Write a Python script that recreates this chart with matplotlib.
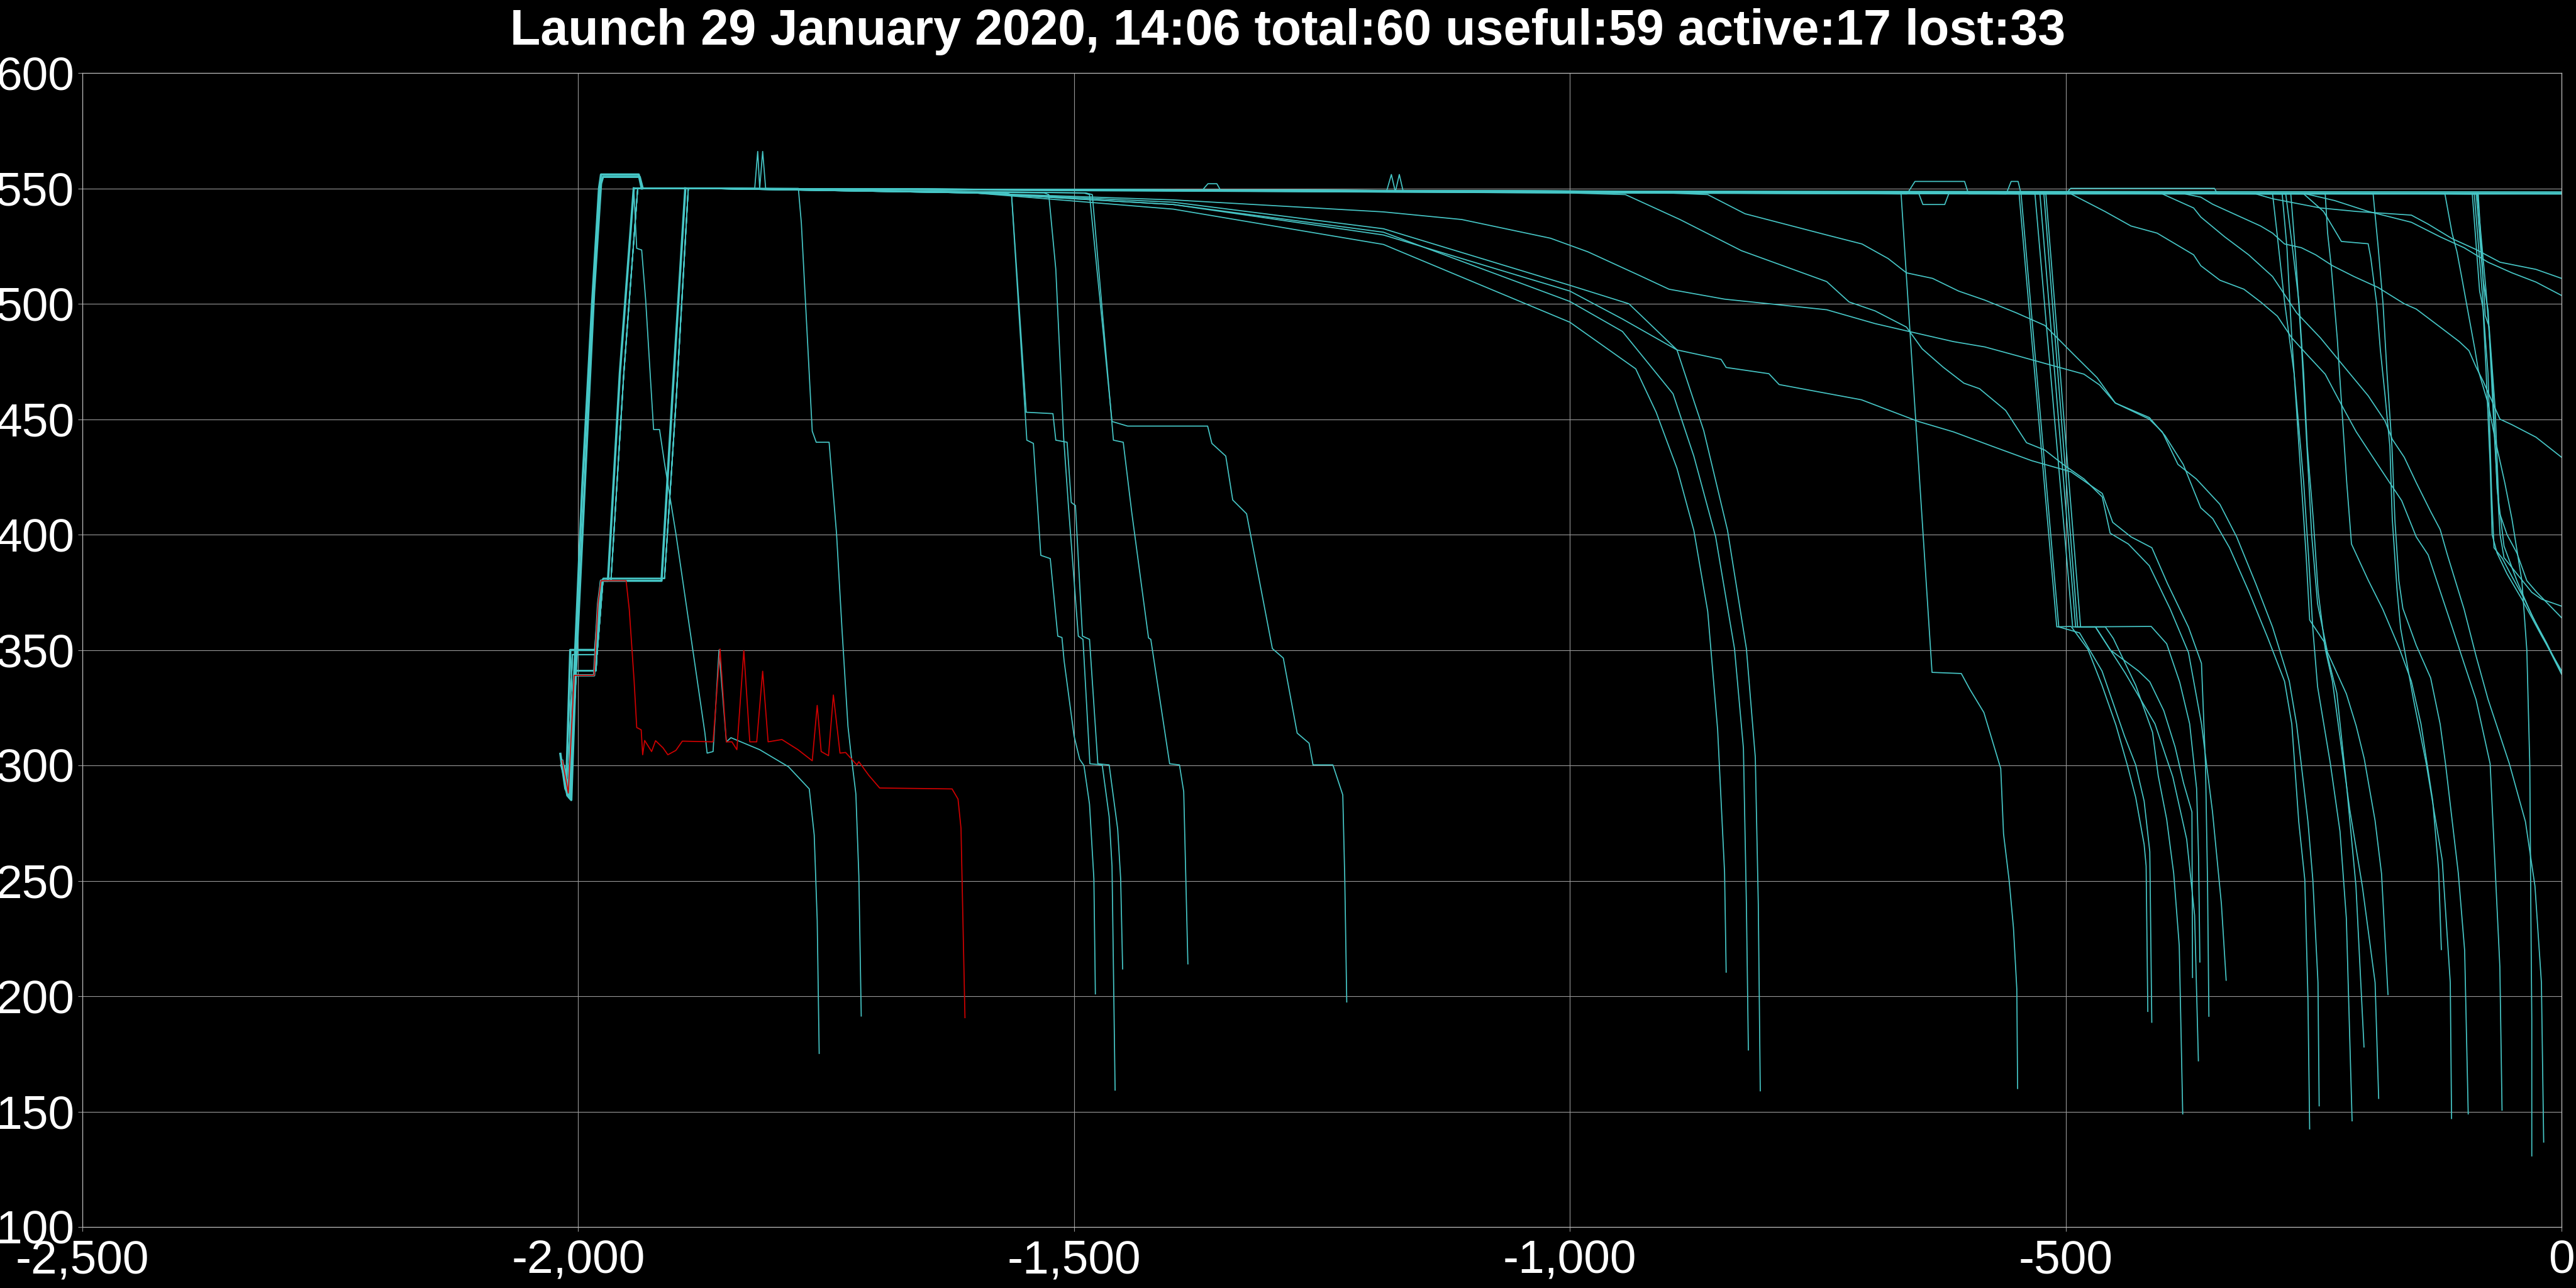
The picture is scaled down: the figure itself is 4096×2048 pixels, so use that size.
import matplotlib
matplotlib.use('Agg')
import matplotlib.pyplot as plt
from matplotlib.ticker import FuncFormatter, MultipleLocator

plt.rcParams['font.family'] = ['Liberation Sans', 'DejaVu Sans']

TITLE = 'Launch 29 January 2020, 14:06 total:60 useful:59 active:17 lost:33'
CYAN = '#46c6c6'
RED = '#d00000'
GRID = '#9a9a9a'

# orbit raising profiles right after launch (days, km)
asc_fast = [(-2018, 305), (-2013, 290), (-2009, 286), (-2005, 330), (-1996, 420),
            (-1986, 500), (-1979, 550), (-1977, 556), (-1939, 556), (-1936, 550)]
asc_fast_b = [(-2016, 300), (-2011, 287), (-2007, 285), (-2003, 335), (-1993, 425),
              (-1984, 505), (-1977, 552), (-1975, 555), (-1938, 555), (-1935, 550)]
asc_mid = [(-2017, 300), (-2012, 292), (-2008, 350), (-1983, 350), (-1977, 380),
           (-1970, 380), (-1958, 470), (-1944, 550)]
asc_mid_b = [(-2015, 298), (-2010, 290), (-2006, 348), (-1981, 348), (-1975, 380),
             (-1967, 380), (-1954, 470), (-1940, 550)]
asc_slow = [(-2016, 302), (-2010, 288), (-2004, 339), (-1984, 339), (-1980, 370),
            (-1977, 380), (-1916, 380), (-1905, 460), (-1892, 550)]
asc_slow_b = [(-2014, 300), (-2008, 286), (-2002, 341), (-1982, 341), (-1978, 372),
              (-1975, 381), (-1913, 381), (-1901, 460), (-1889, 550)]

# still active
act_1 = [(-1880, 550), (-1822, 550), (-1819, 566), (-1817, 550), (-1814, 566), (-1811, 550),
         (-1500, 549), (-1000, 548), (-660, 547.6), (-652, 553), (-602, 553), (-598, 547.6),
         (0, 547.6)]
act_2 = [(-1880, 550), (-1185, 548.5), (-1180, 556), (-1176, 548.5), (-1172, 556),
         (-1168, 548.5), (-648, 547.6), (-644, 543), (-622, 543), (-618, 547.6),
         (-500, 547.6), (-495, 550), (-350, 550), (-347, 547.6), (0, 547.6)]
act_3 = [(-1880, 550), (-1371, 549), (-1365, 552), (-1356, 552), (-1352, 549),
         (-560, 547.6), (-555, 553), (-548, 553), (-545, 547.6), (0, 547.6)]
act_4 = [(-1880, 550), (0, 547.6)]
act_5 = [(-1880, 550), (-1000, 548.5), (0, 548)]
act_6 = [(-1880, 550), (-1500, 549), (0, 548.5)]

# early losses
lost_l1 = [(-1941, 524), (-1936, 523.3), (-1932, 501.8), (-1924, 445.5), (-1918, 445.5),
           (-1913, 431), (-1901.5, 400.4), (-1872.3, 314.2), (-1870, 305.3), (-1864, 306),
           (-1858, 350), (-1850.6, 310.2), (-1846, 312), (-1817, 306.8), (-1788, 299.4),
           (-1767, 289.8), (-1762, 269.8), (-1759, 232.9), (-1757, 175.2)]
lost_l2 = [(-1880, 550), (-1778, 550), (-1775, 535), (-1764, 444.8), (-1760, 440),
           (-1747, 440), (-1739.5, 400.4), (-1734, 359), (-1728, 317), (-1725, 305.3),
           (-1720, 287.6), (-1717, 252), (-1714.6, 191.4)]
red_sat = [(-2016, 302), (-2010, 288), (-2004, 339), (-1984, 339), (-1980, 370), (-1977, 380),
           (-1951.7, 380), (-1948.5, 367.5), (-1943.6, 336.4), (-1941, 316.4), (-1936.5, 315.4),
           (-1935, 304.6), (-1933, 310.8), (-1926, 306), (-1922, 310.7), (-1914.5, 307.6),
           (-1909.6, 304.6), (-1901.5, 306.5), (-1895, 310.5), (-1864, 310.2), (-1857, 350.4),
           (-1850.6, 310.2), (-1845, 310.2), (-1840, 306.8), (-1833, 349.7), (-1827, 310.2),
           (-1820, 310.2), (-1814, 340.8), (-1808.5, 310.2), (-1794.6, 311.2), (-1778.4, 306.8),
           (-1764, 302), (-1759, 326), (-1755, 306), (-1747.6, 304.2), (-1742.7, 330.5),
           (-1736, 305.3), (-1730.4, 305.6), (-1719, 300.2), (-1717, 301.6), (-1707, 295.7),
           (-1696, 290.2), (-1623, 289.8), (-1617, 285.4), (-1614, 272.8), (-1610, 190.7)]

# deorbits around -1500 .. -1200
mid_a = [(-1880, 550), (-1570, 548), (-1563, 547.3), (-1548.2, 453), (-1521.3, 452.4),
         (-1518.4, 440.9), (-1507, 440), (-1502.8, 413.9), (-1498.6, 412.6), (-1491.5, 356),
         (-1484.4, 354.6), (-1476, 300.7), (-1464.6, 300.2), (-1456, 272.4), (-1453, 250.9),
         (-1451, 211.8)]
mid_b = [(-1880, 550), (-1570, 548), (-1563, 547.3), (-1547.6, 440.9), (-1541, 439.5),
         (-1533.5, 391), (-1524, 389.6), (-1516.4, 356), (-1512.2, 355.4), (-1510, 345.2),
         (-1500, 312.8), (-1494.3, 302.6), (-1490, 299.9), (-1484.4, 283.2), (-1480, 250.9),
         (-1478.5, 201)]
mid_d = [(-1880, 550), (-1530, 548), (-1525.5, 547.3), (-1518.4, 515), (-1510.5, 442.2),
         (-1505.7, 412.6), (-1495.7, 356), (-1491, 354.6), (-1484, 300.7), (-1471.6, 300.2),
         (-1464.6, 277.8), (-1461.7, 256.3), (-1458.6, 159.3)]
mid_e = [(-1880, 550), (-1488, 548), (-1481.6, 547.3), (-1460.3, 440.9), (-1450.4, 440),
         (-1441.9, 409.9), (-1424.9, 355.2), (-1422.6, 354.6), (-1403.6, 300.7),
         (-1393.7, 300.2), (-1389.4, 288.6), (-1385.2, 214)]
mid_p = [(-1880, 550), (-1490, 548), (-1484.4, 547.3), (-1461.7, 449), (-1446, 447),
         (-1365.3, 447), (-1361, 439.5), (-1347, 434), (-1340, 415), (-1326, 409),
         (-1300, 350.6), (-1289, 346.5), (-1275, 314), (-1263, 309.6), (-1259, 300.2),
         (-1239, 300.2), (-1229, 287.2), (-1227, 250.9), (-1225, 197.5)]

# slow decay, curving down near -850
curve_1 = [(-1880, 550), (-1600, 548), (-1400, 541), (-1188, 525.7), (-1000, 492),
           (-933.6, 471.8), (-913, 453), (-892, 428.7), (-875, 401.8), (-861, 366.7),
           (-851, 315.5), (-844, 253.6), (-842.4, 210.4)]
curve_2 = [(-1880, 550), (-1600, 548), (-1400, 543), (-1188, 531), (-1000, 501), (-947, 488),
           (-896, 461), (-875, 434), (-853, 399), (-834, 350.6), (-825, 307.5), (-822, 240),
           (-820, 176.7)]
curve_3 = [(-1880, 550), (-1600, 548), (-1400, 544), (-1188, 532.5), (-1000, 508),
           (-940.5, 500), (-892, 480), (-865, 445), (-841, 401.8), (-822, 350.6),
           (-813, 303.4), (-810, 240), (-808, 159)]

# slow decay, curving down near -350 .. -250
slow_1 = [(-1880, 550), (-1600, 548), (-1400, 545), (-1188, 539.8), (-1109, 536.5),
          (-1019.6, 528.4), (-981.8, 522.5), (-930, 512.3), (-900, 506.3), (-844, 502),
          (-741, 497.4), (-692.2, 491.4), (-658, 488), (-613.2, 483.6), (-581.6, 481.3),
          (-547.4, 477.3), (-507.9, 472.6), (-481.6, 469.5), (-465.8, 464.8), (-450, 457),
          (-415.7, 450.7), (-399.9, 442.9), (-381.5, 430.4), (-363.8, 411.6), (-351.7, 406.9),
          (-334.8, 394.3), (-315.5, 375.5), (-296.2, 355.2), (-279.3, 336.4), (-272, 317.9),
          (-265, 275.6), (-258.9, 250.5), (-255.7, 198.9), (-254, 142.5)]
slow_2 = [(-1880, 550), (-1600, 548), (-1400, 543), (-1188, 529.8), (-1000, 505.5),
          (-947, 493.4), (-892, 480), (-847.5, 475.9), (-842.4, 472.4), (-799.3, 469.7),
          (-789, 465), (-706, 458.4), (-648.6, 449), (-613.2, 444.5), (-573.7, 438.2),
          (-534.2, 432), (-494.7, 427.2), (-463.1, 417.8), (-452.6, 405.3), (-434.1, 399),
          (-413.1, 394.3), (-397.3, 378.7), (-376.2, 359.9), (-363.1, 344.2), (-359, 300),
          (-357, 250), (-355.6, 191.3)]
slow_3 = [(-1880, 550), (-1000, 548), (-944, 547.3), (-889, 536.5), (-827, 523),
          (-741, 509.6), (-718.5, 500.8), (-692.2, 496.9), (-660.6, 489.9), (-644.8, 480.5),
          (-623.8, 472.6), (-602.7, 465.6), (-586.9, 463.2), (-560.6, 453.8), (-539.5, 439.8),
          (-521, 436.6), (-502.6, 430.4), (-481.6, 424.1), (-463.1, 416.3), (-455.2, 400.6),
          (-436.8, 395.9), (-415.7, 386.5), (-394.6, 367.7), (-376.2, 348.9), (-363.1, 318),
          (-352, 280), (-343, 240), (-338.2, 206.9)]
slow_4 = [(-1880, 550), (-900, 548), (-861, 547.3), (-823.4, 539), (-741, 529.8),
          (-705.4, 525.9), (-679.1, 519.6), (-660.6, 513.4), (-634.3, 511), (-608, 505.5),
          (-581.7, 501.6), (-550, 496.1), (-521, 490.6), (-492.1, 478.1), (-468.4, 468),
          (-450, 457), (-415.7, 450), (-402.6, 444.5), (-386.8, 430.4), (-368.3, 424.1),
          (-344.5, 413.1), (-327.6, 399), (-308.3, 378.7), (-291.4, 359.9), (-274.5, 336.4),
          (-267.2, 317.9), (-255.7, 275.6), (-250.8, 250.5), (-245.6, 205.9), (-244.4, 152.5)]

# the one that parked at 340 km
park_340 = [(-1880, 550), (-666, 547.6), (-634.8, 340.3), (-605.3, 339.8), (-596.7, 333),
            (-582.5, 322.9), (-565.5, 298.6), (-562.7, 270.4), (-557, 250), (-552.7, 229.7),
            (-549.3, 203.1), (-548.5, 160)]

# group lowered to 360 km then decayed
grp_a = [(-1880, 550), (-547, 547.6), (-509, 360), (-494.6, 360.2), (-477.6, 350.3),
         (-463.4, 334.7), (-449.3, 317.4), (-437.9, 300.2), (-429.4, 286.1), (-420.9, 265.7),
         (-418.9, 256.4), (-417.2, 193.4)]
grp_b = [(-1880, 550), (-545, 547.6), (-507, 360), (-486, 357.4), (-463.4, 340.9),
         (-452, 326.8), (-440.7, 312.7), (-429.4, 300.2), (-420.9, 284.5), (-415.2, 262.6),
         (-413.2, 188.7)]
grp_c = [(-1880, 550), (-531, 547.6), (-493, 360), (-460, 360), (-452, 355), (-429.4, 334.7),
         (-412.4, 314.3), (-406.7, 295.5), (-398.2, 276.7), (-391.1, 253.2), (-385.5, 221.9),
         (-382, 149)]
grp_d = [(-1880, 550), (-526, 547.6), (-490, 360), (-470, 360), (-455, 350), (-426.6, 340.9),
         (-415.2, 336.2), (-401.1, 323.7), (-389.7, 308), (-381.2, 292.4), (-372.7, 279.8),
         (-372.1, 208.1)]
grp_e = [(-1880, 550), (-522, 547.6), (-488, 360), (-413.8, 360.2), (-398.2, 352.7),
         (-385, 336), (-375, 318), (-368, 290), (-366, 260), (-364.7, 214.8)]
grp_f = [(-1880, 550), (-520, 547.6), (-485, 360), (-470, 360), (-440, 340), (-410, 318),
         (-392, 295), (-378, 268), (-370, 235), (-366.2, 172)]

# late slow decays
late_1 = [(-1880, 550), (-500, 547.6), (-494.7, 547.6), (-460.5, 540), (-434.2, 533.7),
          (-407.8, 530.6), (-389.4, 525.9), (-371, 521.2), (-363.8, 516.5), (-344.5, 510.2),
          (-320.3, 506.3), (-303.5, 500.8), (-286.5, 494.6), (-272, 485.2), (-255.2, 477.3),
          (-238.3, 469.5), (-228.7, 461.7), (-219, 453.9), (-207, 444.5), (-190.2, 433.5),
          (-173.3, 422.5), (-161.2, 414.7), (-146.5, 399), (-134.5, 391.2), (-122.4, 375.5),
          (-110.3, 359.9), (-98.3, 344.2), (-86.2, 328.5), (-72, 300.7), (-62.2, 212.9),
          (-60, 150.6)]
late_2 = [(-1880, 550), (-402.6, 547.6), (-371, 541.5), (-363.8, 537.6), (-339.7, 529),
          (-315.5, 521.2), (-291.4, 511.8), (-279.3, 504), (-267.2, 496.1), (-243.1, 485.2),
          (-219, 472.6), (-194.9, 460.1), (-178, 449.2), (-170.7, 441.3), (-158.6, 433.5),
          (-146.5, 422.5), (-132, 410), (-122.4, 402.2), (-115.1, 391.2), (-98.3, 367.7),
          (-86.2, 347.4), (-74.1, 328.6), (-52.6, 300.7), (-36.4, 275.6), (-26.8, 247.7),
          (-20.3, 205.9), (-18, 136.8)]
late_3 = [(-1880, 550), (-380, 547.6), (-363.8, 546.2), (-351.7, 543.1), (-327.6, 538.4),
          (-303.5, 533.7), (-291.4, 530.6), (-279.3, 525.9), (-262.4, 524.3), (-247.9, 521.2),
          (-231, 516.5), (-209.3, 511.8), (-185.2, 507.1), (-158.6, 500), (-146.5, 497.7),
          (-122.4, 489.9), (-103.1, 483.6), (-93.4, 479.7), (-86.2, 472.6), (-79, 466.4),
          (-62.1, 450), (-50, 447.6), (-25.8, 442.2), (0, 433.5)]
late_4 = [(-1880, 550), (-308.3, 547.6), (-291.4, 545.5), (-243.1, 541.5), (-206.9, 540),
          (-151.4, 538.4), (-134.5, 534.5), (-110.3, 528.2), (-86.2, 523.5), (-62, 518),
          (-25.8, 514.9), (0, 511)]
late_5 = [(-1880, 550), (-257.6, 547.6), (-228.7, 544.7), (-194.9, 540), (-151.4, 535.3),
          (-122.4, 529), (-98.3, 524.3), (-74.1, 518), (-50, 513.4), (-25.8, 509.4), (0, 503.6)]

# fast drops in the last 300 days
drop_1 = [(-1880, 550), (-291.4, 547.6), (-286.5, 529), (-279.3, 500.8), (-269.6, 469.5),
          (-264.8, 446), (-260, 422.5), (-255.2, 391.2), (-250.8, 359.2), (-246, 334.1),
          (-233.1, 300.7), (-223.4, 271.4), (-217, 233.8), (-211.2, 146)]
drop_2 = [(-1880, 550), (-281.7, 547.6), (-276.9, 524.3), (-272, 485.2), (-267.2, 453.9),
          (-262.4, 422.5), (-257.6, 391.2), (-254, 363), (-239.5, 353.6), (-226.6, 331.3),
          (-217, 292.3), (-207.3, 247.7), (-199.2, 178)]
drop_3 = [(-1880, 550), (-278.1, 547.6), (-272, 526.6), (-264.8, 500.8), (-260, 469.5),
          (-256.4, 438.2), (-250.4, 406.9), (-245.5, 375.5), (-238.3, 350.5), (-231, 336.4),
          (-213.7, 281.2), (-200.9, 247.7), (-188, 205.9), (-184.4, 155.7)]
drop_4 = [(-1880, 550), (-273, 547.6), (-268, 520), (-262, 480), (-257, 440), (-252, 400),
          (-246, 370), (-236, 349), (-217, 331), (-207, 317), (-199, 303), (-188, 276),
          (-181.5, 253), (-175, 200.7)]
drop_5 = [(-1880, 550), (-238.3, 547.6), (-235.9, 530.6), (-232.3, 516.5), (-226.2, 485.2),
          (-221.4, 453.9), (-216.6, 422.5), (-211.8, 395.9), (-194.9, 380.2), (-180.3, 367.7),
          (-163.4, 350.5), (-151.4, 336.4), (-141.7, 317.9), (-130, 285), (-124, 255),
          (-121.2, 220.2)]
drop_6 = [(-1880, 550), (-260, 547.6), (-240, 540), (-222, 527), (-195, 526), (-192.4, 520),
          (-186.4, 500), (-182.7, 480), (-177.9, 460), (-173.1, 438.2), (-170.7, 406.9),
          (-165.8, 375.5), (-162.2, 359.2), (-149.3, 328.5), (-136.4, 300.7), (-120.3, 258.9),
          (-112.2, 205.9), (-110.9, 147)]
drop_7 = [(-1880, 550), (-190, 547.6), (-185, 525), (-180, 500), (-176, 470), (-171, 438),
          (-168, 406), (-164, 380), (-160, 368), (-146.5, 352), (-132, 337.9), (-122.4, 317.9),
          (-117, 300.7), (-104.1, 253.3), (-97.7, 219.8), (-94.1, 149)]
drop_8 = [(-1880, 550), (-117.6, 547.6), (-110.3, 530.4), (-105.5, 522.6), (-100.7, 511.6),
          (-93.4, 494.4), (-87.4, 480.3), (-83.8, 470.9), (-74.1, 456.8), (-66.9, 441.2),
          (-57.2, 422.4), (-50, 406.7), (-40, 380), (-35, 350), (-32, 300), (-31, 240),
          (-30, 190), (-30, 130.8)]

# most recent group, lowered to ~380 km
last_1 = [(-1880, 550), (-90, 547.6), (-82.6, 505.5), (-79, 497.7), (-74.1, 469.5),
          (-70.5, 417.8), (-68.1, 394.3), (-59.6, 389.6), (-50, 381.8), (-37.9, 372.4),
          (-25.8, 361.5), (0, 339.5)]
last_2 = [(-1880, 550), (-88, 547.6), (-80, 505), (-76, 470), (-72, 430), (-70, 400),
          (-65, 392), (-55, 383), (-40, 372), (-20, 356), (0, 341)]
last_3 = [(-1880, 550), (-86, 547.6), (-79, 510), (-74, 497), (-68, 445), (-62, 400),
          (-58, 390), (-45, 383), (-30, 375), (-20, 372), (0, 369)]
last_4 = [(-1880, 550), (-84, 547.6), (-77, 495), (-73, 490), (-67, 455), (-63, 410),
          (-55, 400), (-45, 392), (-35, 380), (-25, 375), (0, 364)]
last_5 = [(-1880, 550), (-85, 547.6), (-76, 505), (-70, 470), (-65, 420), (-58, 395),
          (-45, 380), (-30, 365), (-15, 353), (0, 340)]

ASCENTS = {'fast': asc_fast, 'fast_b': asc_fast_b, 'mid': asc_mid, 'mid_b': asc_mid_b,
           'slow': asc_slow, 'slow_b': asc_slow_b}
TRACKS = [
    ('fast', act_1), ('fast_b', act_2), ('mid', act_3), ('slow', act_4), ('mid_b', act_5),
    ('slow_b', act_6), ('mid', lost_l1), ('fast', lost_l2),
    ('fast_b', mid_a), ('fast', mid_b), ('mid_b', mid_d), ('slow', mid_e), ('mid', mid_p),
    ('fast', curve_1), ('fast_b', curve_2), ('mid', curve_3),
    ('fast_b', slow_1), ('mid_b', slow_2), ('mid', slow_3), ('slow_b', slow_4),
    ('fast', park_340),
    ('fast', grp_a), ('mid_b', grp_b), ('fast_b', grp_c), ('mid', grp_d), ('slow', grp_e),
    ('slow_b', grp_f),
    ('fast_b', late_1), ('mid', late_2), ('slow', late_3), ('fast', late_4), ('mid_b', late_5),
    ('fast', drop_1), ('mid_b', drop_2), ('slow_b', drop_3), ('slow', drop_4), ('fast_b', drop_5),
    ('mid', drop_6), ('slow', drop_7), ('slow_b', drop_8),
    ('fast', last_1), ('fast_b', last_2), ('mid', last_3), ('slow', last_4), ('slow_b', last_5),
]

fig = plt.figure(figsize=(40.96, 20.48), dpi=100, facecolor='black')
ax = fig.add_axes([131 / 4096, 1 - 1951 / 2048, (4073 - 131) / 4096, (1951 - 116) / 2048])
ax.set_facecolor('black')

# the ascent legs of all 60 satellites overlap into a thick bundle
for key in ('fast', 'fast_b', 'mid', 'slow'):
    prof = ASCENTS[key]
    ax.plot([p[0] for p in prof], [p[1] for p in prof], color=CYAN, lw=2.6,
            solid_joinstyle='round')

for asc, tail in TRACKS:
    pts = ASCENTS[asc] + tail
    xs = [p[0] for p in pts]
    ys = [p[1] for p in pts]
    ax.plot(xs, ys, color=CYAN, lw=1.25, solid_joinstyle='round')

ax.plot([p[0] for p in red_sat], [p[1] for p in red_sat], color=RED, lw=1.25)

ax.set_xlim(-2500, 0)
ax.set_ylim(100, 600)
ax.xaxis.set_major_locator(MultipleLocator(500))
ax.yaxis.set_major_locator(MultipleLocator(50))
ax.xaxis.set_major_formatter(FuncFormatter(lambda v, p: '{:,}'.format(int(v))))
ax.yaxis.set_major_formatter(FuncFormatter(lambda v, p: '{}'.format(int(v))))
ax.grid(True, color=GRID, lw=0.8)
ax.set_axisbelow(True)
for s in ax.spines.values():
    s.set_color('#bbbbbb')
    s.set_linewidth(0.9)
ax.tick_params(colors='white', labelsize=54, length=5, width=0.8)
ax.tick_params(axis='x', pad=9)
ax.tick_params(axis='y', pad=4)
ax.tick_params(axis='both', color=GRID)

fig.text(0.5, 1 - 50 / 2048, TITLE, color='white', fontsize=57, fontweight='bold',
         ha='center', va='center')

fig.savefig('out.png', dpi=100, facecolor='black')
